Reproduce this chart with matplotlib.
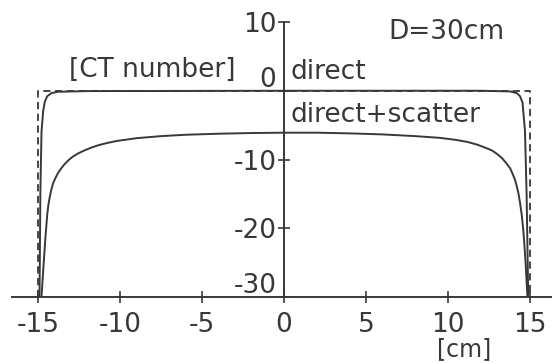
import matplotlib
matplotlib.use('Agg')
import matplotlib.pyplot as plt
from matplotlib.transforms import ScaledTranslation

# profiles [cm] -> [CT number]
x_scatter = [-14.8, -14.72, -14.65, -14.55, -14.45, -14.38, -14.3, -14.2, -14.1,
             -13.95, -13.8, -13.6, -13.4, -13.15, -12.9, -12.55, -12.2, -11.8,
             -11.3, -10.8, -10.2, -9.0, -7.5, -6.0, -4.0, -2.0, 0.0,
             2.0, 4.0, 6.0, 8.0, 9.5, 10.5, 11.2, 11.8, 12.3, 12.7, 13.0,
             13.3, 13.55, 13.8, 13.95, 14.1, 14.2, 14.3, 14.4, 14.5, 14.6,
             14.67, 14.75, 14.85]
y_scatter = [-30.0, -27.0, -24.5, -21.0, -18.0, -16.6, -15.5, -14.4, -13.5,
             -12.7, -12.0, -11.3, -10.7, -10.1, -9.6, -9.1, -8.7, -8.3,
             -7.9, -7.6, -7.3, -6.9, -6.6, -6.4, -6.25, -6.15, -6.1,
             -6.1, -6.2, -6.35, -6.6, -6.85, -7.15, -7.45, -7.85, -8.3,
             -8.7, -9.2, -9.8, -10.5, -11.3, -12.1, -13.0, -13.9, -14.9,
             -16.3, -18.0, -20.3, -22.5, -25.5, -30.0]

x_direct = [-14.92, -14.87, -14.8, -14.7, -14.6, -14.45, -14.2, -13.8, -12.0,
            0.0, 12.0, 13.8, 14.2, 14.4, 14.55, 14.7, 14.8, 14.9]
y_direct = [-30.0, -15.0, -6.0, -3.0, -1.6, -0.8, -0.35, -0.15, -0.05,
            0.0, 0.0, -0.1, -0.35, -0.8, -1.7, -5.8, -15.0, -30.0]

x_ideal = [-15.0, -15.0, 15.0, 15.0]
y_ideal = [-30.0, 0.0, 0.0, -30.0]

x_ticks = [-15, -10, -5, 0, 5, 10, 15]
x_labels = ['-15', '-10', '-5', '0', '5', '10', '15']
y_ticks = [10, 0, -10, -20, -30]
y_labels = ['10', '0', '-10', '-20', '-30']

ink = '#383838'
plt.rcParams['font.family'] = ['DejaVu Sans']

fig = plt.figure(figsize=(5.52, 3.62), dpi=100)
ax = fig.add_axes([12 / 552, 1 - 297 / 362, 540 / 552, 275 / 362])

ax.plot(x_ideal, y_ideal, color=ink, lw=1.3, ls=(0, (4, 2.5)))
ax.plot(x_direct, y_direct, color=ink, lw=1.4, solid_joinstyle='round')
ax.plot(x_scatter, y_scatter, color=ink, lw=1.4, solid_joinstyle='round')

ax.set_xlim(-16.6, 16.35)
ax.set_ylim(-30, 10)

for s in ['top', 'right']:
  ax.spines[s].set_visible(False)
ax.spines['left'].set_position(('data', 0))
ax.spines['left'].set_bounds(-30, 10)
ax.spines['bottom'].set_position(('data', -30))
for s in ['left', 'bottom']:
  ax.spines[s].set_color(ink)
  ax.spines[s].set_linewidth(1.4)

fs = 19
ax.set_xticks(x_ticks, x_labels)
ax.set_yticks(y_ticks, y_labels)
ax.tick_params(axis='both', direction='inout', length=9, width=1.2,
               color=ink, labelcolor=ink, labelsize=fs)
ax.tick_params(axis='x', pad=6)
ax.tick_params(axis='y', pad=1)

# labels sitting on a line are lifted, as in the original
for lab in ax.get_yticklabels():
  if lab.get_text() in ('0', '-30'):
    lab.set_transform(lab.get_transform() +
                      ScaledTranslation(0, 14 / 100, fig.dpi_scale_trans))

ax.text(152 / 552, 1 - 70 / 362, '[CT number]', transform=fig.transFigure,
        ha='center', va='center', fontsize=fs, color=ink)
ax.text(446 / 552, 1 - 32 / 362, 'D=30cm', transform=fig.transFigure,
        ha='center', va='center', fontsize=fs, color=ink)
ax.text(291 / 552, 1 - 72 / 362, 'direct', transform=fig.transFigure,
        ha='left', va='center', fontsize=fs, color=ink)
ax.text(291 / 552, 1 - 115 / 362, 'direct+scatter', transform=fig.transFigure,
        ha='left', va='center', fontsize=fs, color=ink)
ax.text(464 / 552, 1 - 349 / 362, '[cm]', transform=fig.transFigure,
        ha='center', va='center', fontsize=17, color=ink)

fig.savefig('out.png', dpi=100, facecolor='white')
